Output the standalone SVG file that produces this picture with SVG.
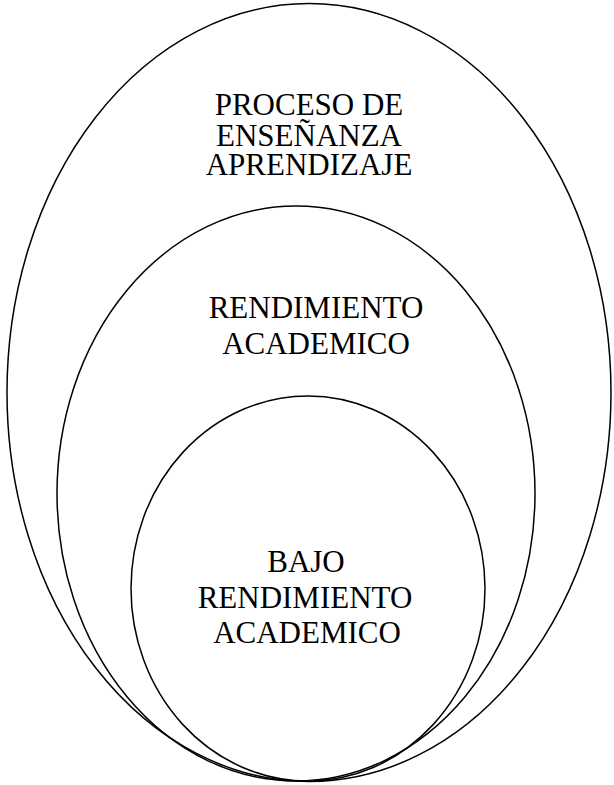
<svg xmlns="http://www.w3.org/2000/svg" width="614" height="785" viewBox="0 0 614 785">
<style>
.e{fill:none;stroke:#000;stroke-width:1.5}
.t{font-family:"Liberation Serif","Times New Roman",serif;font-size:31px;fill:#000;text-anchor:middle}
</style>
<rect width="614" height="785" fill="#fff"/>
<g id="outer">
<ellipse class="e" cx="309" cy="392.5" rx="302" ry="389"/>
<text class="t" x="309" y="115">PROCESO DE</text>
<text class="t" x="309" y="145.5">ENSEÑANZA</text>
<text class="t" x="309" y="175">APRENDIZAJE</text>
</g>
<g id="middle">
<ellipse class="e" cx="296" cy="493.5" rx="239" ry="287.5"/>
<text class="t" x="316" y="318">RENDIMIENTO</text>
<text class="t" x="316" y="354">ACADEMICO</text>
</g>
<g id="inner">
<ellipse class="e" cx="308" cy="588.5" rx="177" ry="192.5"/>
<text class="t" x="306" y="572">BAJO</text>
<text class="t" x="305" y="608">RENDIMIENTO</text>
<text class="t" x="307" y="643">ACADEMICO</text>
</g>
<g id="connectors"/>
</svg>
